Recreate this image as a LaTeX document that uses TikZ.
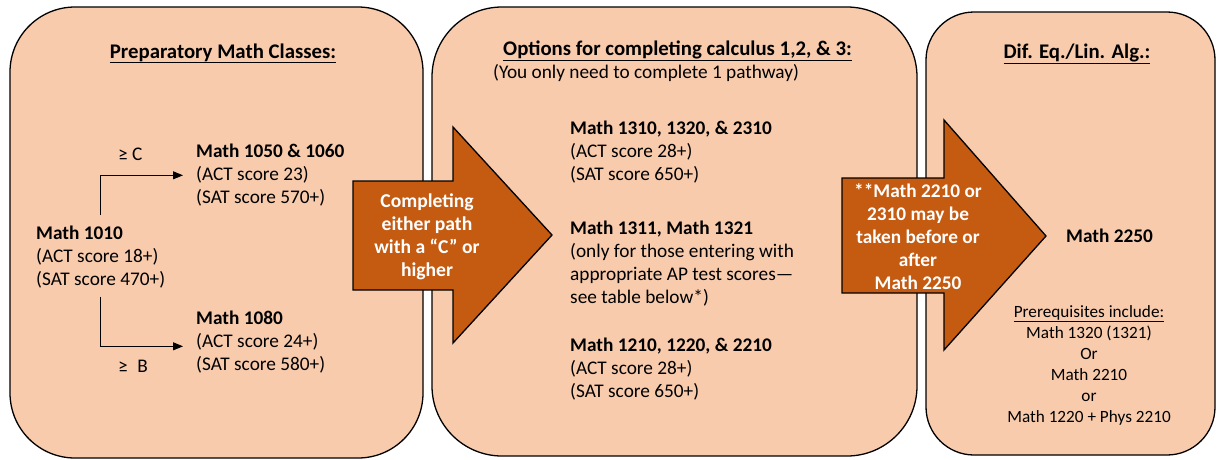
\documentclass[tikz,border=0pt]{standalone}
\usepackage{fontspec}
\setmainfont{Carlito}
\usetikzlibrary{arrows.meta}
\definecolor{peach}{HTML}{F8CBAD}
\definecolor{burnt}{HTML}{C55A11}
\begin{document}
\begin{tikzpicture}[x=1pt,y=-1pt,
  panel/.style={draw=black,line width=1.3pt,fill=peach},
  bigarrow/.style={draw=black,line width=1.3pt,fill=burnt},
  blk/.style={inner sep=0pt,align=left,anchor=north west,font=\fontsize{19.3}{23}\selectfont},
  one/.style={inner sep=0pt,font=\fontsize{19.3}{23}\selectfont},
  ttl/.style={inner sep=0pt,font=\fontsize{20.8}{24}\selectfont\bfseries},
  arrtxt/.style={inner sep=0pt,align=center,text=white,font=\fontsize{19.6}{23}\selectfont\bfseries},
  small/.style={inner sep=0pt,align=center,anchor=north,font=\fontsize{17.2}{21}\selectfont},
  conn/.style={draw=black,line width=0.8pt,-{Triangle[length=10pt,width=8pt]}}]
\useasboundingbox (0,0) rectangle (1218,459);
% panels
\draw[panel,rounded corners=65pt] (10,7) rectangle (423,458);
\draw[panel,rounded corners=70pt] (432,7) rectangle (917,456);
\draw[panel,rounded corners=48pt] (926,12) rectangle (1215,455);
% big arrows
\draw[bigarrow] (353,181) -- (453,181) -- (453,127) -- (552,235) -- (453,343) -- (453,290) -- (353,290) -- cycle;
\draw[bigarrow] (842,178) -- (944,178) -- (944,120) -- (1046,236) -- (944,350) -- (944,293) -- (842,293) -- cycle;
\node[arrtxt] (a1) at (427,237) {Completing\\either path\\with a “C” or\\higher};
\node[arrtxt,font=\fontsize{19.3}{23}\selectfont\bfseries] (a2) at (918,237) {**Math 2210 or\\2310 may be\\taken before or\\after\\Math 2250};
% panel 1
\node[ttl,anchor=base] (t1) at (223,58) {\underline{Preparatory Math Classes:}};
\node[blk] (m1010) at (36,226) {\textbf{Math 1010}\\(ACT score 18+)\\(SAT score 470+)};
\node[blk] (m1050) at (196,144) {\textbf{Math 1050 \& 1060}\\(ACT score 23)\\(SAT score 570+)};
\node[blk] (m1080) at (196,311) {\textbf{Math 1080}\\(ACT score 24+)\\(SAT score 580+)};
\node[one,anchor=base west] (gc) at (118,160) {≥ C};
\node[one,anchor=base west] (gb) at (118,372) {≥\hspace{0.5em}B};
\draw[conn,shorten >=13pt] ([yshift=11pt]m1010.north) |- (m1050.west);
\draw[conn,shorten >=13pt] ([yshift=-8pt]m1010.south) |- ([yshift=-4pt]m1080.west);
% panel 2
\node[ttl,anchor=base west] (t2) at (503,55) {\underline{Options for completing calculus 1,2, \& 3:}};
\node[one,anchor=base west] (sub2) at (493,78) {(You only need to complete 1 pathway)};
\node[blk] (m1310) at (570,121) {\textbf{Math 1310, 1320, \& 2310}\\(ACT score 28+)\\(SAT score 650+)};
\node[blk] (m1311) at (570,221) {\textbf{Math 1311, Math 1321}\\(only for those entering with\\appropriate AP test scores—\\see table below*)};
\node[blk] (m1210) at (570,338) {\textbf{Math 1210, 1220, \& 2210}\\(ACT score 28+)\\(SAT score 650+)};
% panel 3
\node[ttl,anchor=base] (t3) at (1077,58) {\underline{Dif. Eq./Lin. Alg.:}};
\node[one,anchor=base west] (m2250) at (1066,242) {\textbf{Math 2250}};
\node[small] (pre) at (1089,305) {\underline{Prerequisites include:}\\Math 1320 (1321)\\Or\\Math 2210\\or\\Math 1220 + Phys 2210};
\end{tikzpicture}
\end{document}
